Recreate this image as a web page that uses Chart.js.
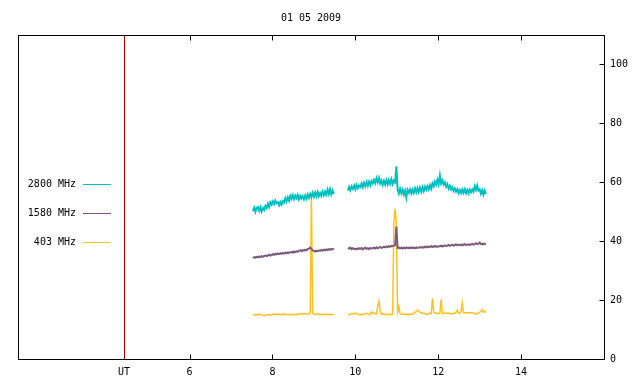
<!DOCTYPE html>
<html>
<head>
<meta charset="utf-8">
<script src="https://cdn.jsdelivr.net/npm/chart.js@4"></script>
<style>
  html, body { margin: 0; padding: 0; background: #fff; }
  #wrap { width: 640px; height: 384px; }
</style>
</head>
<body>
<div id="wrap"><canvas id="radioChart" width="640" height="384"></canvas></div>
<script>
const chartTitle = "01 05 2009"
const seriesLabels = ["2800 MHz", "1580 MHz", "403 MHz"]
const seriesColors = ["#00bfbf", "#7b5a7b", "#ffc020"]
const xTickVals = [4.42, 6, 8, 10, 12, 14]
const utPos = 4.42
const yTickVals = [0, 20, 40, 60, 80, 100]

// sample times: two runs, one reading every 0.03 h
const step = 0.03
const start1 = 7.53
const start2 = 9.82

const s2800a = [
  50.2, 51.4, 50.0, 51.3, 51.6, 50.3, 51.5, 50.1, 51.2, 50.6,
  52.0, 51.2, 52.7, 51.6, 53.2, 52.4, 53.5, 52.6, 53.8, 52.9,
  53.2, 52.2, 53.3, 52.4, 53.6, 53.1, 54.6, 53.5, 54.9, 53.8,
  55.4, 54.4, 55.6, 54.3, 55.5, 54.6, 55.7, 54.2, 55.4, 54.5,
  55.3, 54.2, 55.5, 54.4, 55.8, 54.7, 56.1, 55.0, 56.4, 55.1,
  56.5, 55.2, 56.7, 55.3, 56.4, 55.4, 56.8, 55.6, 56.9, 55.8,
  57.5, 56.0, 57.6, 55.9, 57.2, 56.0
]
const s2800b = [
  57.2, 58.4, 57.3, 58.6, 57.8, 58.9, 57.6, 59.1, 58.0, 58.9,
  58.4, 59.6, 58.3, 59.8, 58.7, 60.1, 58.8, 60.2, 59.0, 60.4,
  59.6, 60.8, 59.7, 61.4, 60.0, 61.5, 59.6, 60.6, 59.1, 60.5,
  59.2, 60.7, 59.3, 60.8, 59.5, 61.0, 59.4, 60.6, 60.0, 65.4,
  57.6, 56.2, 57.8, 56.3, 57.5, 55.9, 57.2, 54.8, 57.4, 56.5,
  57.6, 56.2, 57.5, 56.4, 57.9, 56.6, 58.0, 56.7, 58.2, 56.8,
  58.3, 57.0, 58.5, 57.5, 58.7, 57.6, 59.0, 57.8, 59.6, 58.6,
  60.2, 59.2, 60.8, 59.3, 62.3, 59.6, 60.6, 59.2, 60.0, 58.5,
  59.4, 57.9, 58.8, 57.6, 58.3, 57.1, 57.9, 56.8, 57.6, 56.4,
  57.4, 56.3, 57.5, 56.4, 57.6, 56.3, 57.4, 56.2, 57.5, 56.6,
  57.6, 56.8, 58.6, 57.4, 58.9, 57.2, 57.6, 56.1, 57.3, 55.8, 57.2, 56.0
]

const s1580a = [
  34.3, 34.6, 34.4, 34.7, 34.5, 34.8, 34.6, 34.9, 34.7, 35.0,
  35.1, 34.9, 35.2, 35.4, 35.1, 35.3, 35.6, 35.4, 35.7, 35.5,
  35.8, 35.6, 35.9, 35.7, 36.0, 35.8, 36.1, 35.9, 36.2, 36.0,
  36.2, 36.4, 36.1, 36.5, 36.3, 36.6, 36.4, 36.8, 36.9, 36.6,
  37.0, 36.8, 37.1, 36.9, 37.3, 37.5, 37.8, 37.4, 36.9, 36.7,
  36.5, 36.8, 36.6, 36.9, 36.7, 37.0, 36.8, 37.1, 36.9, 37.2,
  37.0, 37.3, 37.1, 37.4, 37.2, 37.5
]
const s1580b = [
  37.7, 37.5, 37.8, 37.3, 37.6, 37.4, 37.2, 37.5, 37.3, 37.6,
  37.4, 37.7, 37.2, 37.5, 37.8, 37.4, 37.6, 37.3, 37.7, 37.5,
  37.6, 37.8, 37.5, 37.9, 37.6, 37.8, 38.0, 37.7, 37.9, 38.1,
  37.9, 38.2, 38.0, 38.3, 38.1, 38.4, 38.3, 38.5, 38.6, 45.0,
  37.7, 37.9, 37.6, 37.8, 37.5, 37.8, 37.6, 37.9, 37.7, 37.8,
  37.6, 37.9, 37.7, 37.8, 37.6, 37.9, 37.7, 37.8, 38.0, 37.8,
  38.0, 37.8, 38.1, 37.9, 38.2, 38.0, 38.1, 38.3, 38.0, 38.2,
  38.4, 38.1, 38.3, 38.2, 38.3, 38.5, 38.2, 38.4, 38.6, 38.3,
  38.5, 38.7, 38.4, 38.6, 38.8, 38.5, 38.7, 38.9, 38.6, 38.8,
  38.8, 38.6, 38.9, 38.7, 39.0, 38.8, 38.7, 38.9, 38.7, 38.9,
  39.1, 38.8, 39.0, 39.3, 39.0, 39.2, 39.5, 39.1, 38.9, 39.2, 39.0, 39.1
]

const s403a = [
  15.1, 15.0, 14.9, 15.0, 15.1, 15.2, 15.1, 15.0, 14.8, 14.7,
  14.8, 15.0, 15.1, 15.0, 14.9, 15.0, 15.2, 15.3, 15.1, 15.2,
  15.1, 15.3, 15.2, 15.0, 15.1, 15.4, 15.2, 15.1, 15.0, 15.2,
  15.1, 15.0, 15.1, 15.2, 15.1, 15.0, 15.3, 15.2, 15.4, 15.3,
  15.4, 15.3, 15.4, 15.3, 15.2, 15.4, 15.5, 55.0, 15.6, 15.3,
  15.2, 15.3, 15.2, 15.1, 15.2, 15.0, 15.2, 15.1, 15.2, 15.1,
  15.2, 15.1, 15.0, 15.2, 15.1, 15.0
]
const s403b = [
  15.1, 15.0, 15.2, 15.4, 15.5, 15.3, 15.5, 15.6, 15.2, 15.0,
  15.1, 15.0, 15.2, 15.1, 15.4, 15.5, 15.3, 15.1, 15.2, 16.0,
  15.5, 15.4, 15.6, 15.3, 17.8, 19.6, 16.4, 15.2, 15.3, 15.2,
  15.1, 15.2, 15.0, 15.1, 15.2, 15.1, 15.3, 46.5, 51.0, 46.0,
  16.0, 17.7, 15.4, 15.2, 15.3, 15.2, 15.3, 15.2, 15.1, 15.2,
  15.1, 15.3, 15.2, 15.5, 15.8, 16.2, 16.6, 16.3, 15.9, 15.6,
  15.5, 15.6, 15.4, 15.2, 15.1, 15.3, 15.6, 15.4, 20.6, 15.8,
  15.5, 15.6, 15.4, 15.5, 15.6, 20.3, 15.5, 15.4, 15.6, 15.5,
  15.5, 15.6, 15.4, 15.5, 15.3, 15.4, 15.5, 15.8, 16.6, 15.6,
  15.5, 16.2, 19.1, 15.7, 15.6, 15.8, 15.7, 15.6, 15.7, 15.8,
  15.7, 15.6, 15.4, 15.2, 15.4, 15.6, 15.9, 16.1, 16.8, 15.9, 16.2, 15.8
]

function toPoints(a, b) {
  const first = a.map((v, i) => ({ x: start1 + i * step, y: v }))
  const gap = { x: (start1 + a.length * step + start2) / 2, y: null }
  const second = b.map((v, i) => ({ x: start2 + i * step, y: v }))
  return first.concat([gap], second)
}

const seriesData = [toPoints(s2800a, s2800b), toPoints(s1580a, s1580b), toPoints(s403a, s403b)]
const seriesWidths = [2, 2, 1.5]
const FONT = "DejaVu Sans Mono"

// gnuplot-ish frame, inward ticks, UT marker, title and legend
const gnuFrame = {
  id: "gnuFrame",
  beforeDatasetsDraw(chart) {
    const { ctx, chartArea: a, scales } = chart
    ctx.save()
    ctx.strokeStyle = "#a00000"
    ctx.lineWidth = 1
    const ux = Math.round(scales.x.getPixelForValue(utPos)) + 0.5
    ctx.beginPath()
    ctx.moveTo(ux, a.top)
    ctx.lineTo(ux, a.bottom)
    ctx.stroke()
    ctx.restore()
  },
  afterDraw(chart) {
    const { ctx, chartArea: a, scales } = chart
    ctx.save()
    ctx.strokeStyle = "#000"
    ctx.lineWidth = 1
    const L = Math.round(a.left) + 0.5, R = Math.round(a.right) + 0.5
    const T = Math.round(a.top) + 0.5, B = Math.round(a.bottom) + 0.5
    ctx.strokeRect(L, T, R - L, B - T)
    ctx.beginPath()
    xTickVals.forEach((v) => {
      if (v === utPos) return
      const px = Math.round(scales.x.getPixelForValue(v)) + 0.5
      ctx.moveTo(px, T); ctx.lineTo(px, T + 5)
      ctx.moveTo(px, B); ctx.lineTo(px, B - 5)
    })
    yTickVals.forEach((v) => {
      const py = Math.round(scales.y.getPixelForValue(v)) + 0.5
      ctx.moveTo(R, py); ctx.lineTo(R - 5, py)
    })
    ctx.stroke()

    ctx.fillStyle = "#000"
    ctx.font = "10px '" + FONT + "'"
    ctx.textAlign = "center"
    ctx.textBaseline = "middle"
    ctx.fillText(chartTitle, (a.left + a.right) / 2, 18)

    chart.data.datasets.forEach((ds, i) => {
      const y = 184 + i * 29
      ctx.textAlign = "right"
      ctx.fillStyle = "#000"
      ctx.fillText(ds.label, 76, y)
      ctx.strokeStyle = ds.borderColor
      ctx.lineWidth = 1
      ctx.beginPath()
      ctx.moveTo(83, y + 0.5)
      ctx.lineTo(111, y + 0.5)
      ctx.stroke()
    })
    ctx.restore()
  },
}

new Chart(document.getElementById("radioChart"), {
  type: "line",
  data: {
    datasets: seriesLabels.map((label, i) => ({
      label: label,
      data: seriesData[i],
      borderColor: seriesColors[i],
      backgroundColor: seriesColors[i],
      borderWidth: seriesWidths[i],
      pointRadius: 0,
      tension: 0,
      spanGaps: false,
    })),
  },
  options: {
    responsive: false,
    animation: false,
    layout: { padding: { left: 18, top: 35, right: 0, bottom: 0 } },
    plugins: { legend: { display: false }, tooltip: { enabled: false }, title: { display: false } },
    scales: {
      x: {
        type: "linear",
        min: 1.86,
        max: 16,
        grid: { display: false, drawTicks: false },
        border: { display: false },
        afterBuildTicks: (scale) => { scale.ticks = xTickVals.map((v) => ({ value: v })) },
        afterFit: (scale) => { scale.height = 25 },
        ticks: {
          autoSkip: false,
          maxRotation: 0,
          padding: 7,
          color: "#000",
          font: { family: FONT, size: 10 },
          callback: (v) => (v === utPos ? "UT" : v),
        },
      },
      y: {
        position: "right",
        min: 0,
        max: 110,
        grid: { display: false, drawTicks: false },
        border: { display: false },
        afterBuildTicks: (scale) => { scale.ticks = yTickVals.map((v) => ({ value: v })) },
        afterFit: (scale) => { scale.width = 36 },
        ticks: {
          padding: 6,
          color: "#000",
          font: { family: FONT, size: 10 },
        },
      },
    },
  },
  plugins: [gnuFrame],
})
</script>
</body>
</html>
